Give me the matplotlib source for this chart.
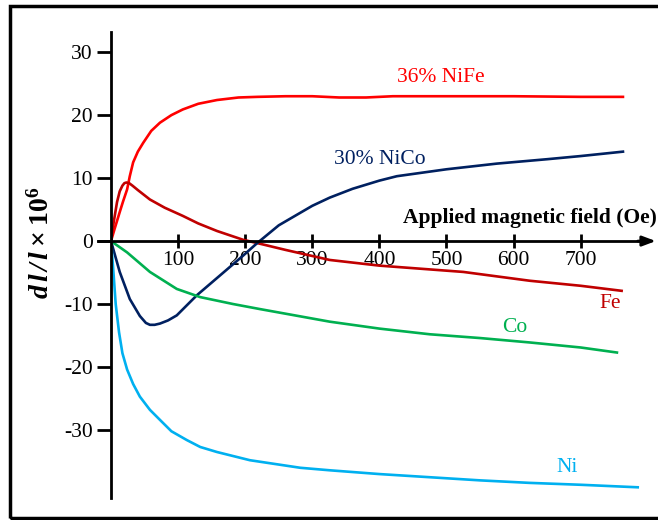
import matplotlib
matplotlib.use('Agg')
import matplotlib.pyplot as plt
from matplotlib.patches import Rectangle

plt.rcParams['font.family'] = 'Liberation Serif'
plt.rcParams['axes.unicode_minus'] = False
plt.rcParams['mathtext.fontset'] = 'custom'
plt.rcParams['mathtext.rm'] = 'Liberation Serif'
plt.rcParams['mathtext.it'] = 'Liberation Serif:italic'
plt.rcParams['mathtext.bf'] = 'Liberation Serif:bold'
plt.rcParams['mathtext.bfit'] = 'Liberation Serif:bold:italic'

# data (field in Oe, dl/l x 1e6)
nife_x = [0, 5, 9, 13, 18, 24, 28, 33, 40, 48, 60, 73, 90, 107, 130, 158, 190, 218, 260, 300, 340, 380, 420, 500, 600, 700, 763]
nife_y = [0, 1.8, 3.2, 4.6, 6.3, 8.2, 10.3, 12.5, 14.2, 15.6, 17.5, 18.8, 20.0, 20.9, 21.8, 22.4, 22.8, 22.9, 23.0, 23.0, 22.8, 22.8, 23.0, 23.0, 23.0, 22.9, 22.9]

fe_x = [0, 4, 9, 13, 17, 20, 23, 27, 32, 40, 58, 80, 107, 130, 158, 197, 225, 260, 326, 400, 525, 624, 700, 761]
fe_y = [0, 3.0, 6.2, 7.9, 8.8, 9.2, 9.3, 9.2, 8.8, 8.1, 6.6, 5.3, 4.0, 2.8, 1.6, 0.2, -0.5, -1.4, -3.0, -3.9, -4.9, -6.3, -7.1, -7.9]

nico_x = [0, 13, 28, 43, 52, 58, 65, 73, 85, 98, 128, 162, 197, 217, 250, 300, 326, 360, 400, 426, 500, 575, 650, 700, 763]
nico_y = [0, -4.9, -9.2, -11.9, -13.0, -13.3, -13.3, -13.1, -12.6, -11.8, -8.6, -5.5, -2.3, -0.4, 2.5, 5.6, 6.9, 8.3, 9.6, 10.3, 11.4, 12.3, 13.0, 13.5, 14.2]

co_x = [0, 24, 58, 98, 133, 182, 222, 326, 400, 475, 550, 624, 700, 754]
co_y = [0, -1.8, -4.9, -7.6, -8.9, -10.0, -10.8, -12.8, -13.9, -14.8, -15.4, -16.1, -16.9, -17.7]

ni_x = [0, 3, 7, 12, 17, 24, 33, 43, 58, 73, 90, 113, 133, 158, 207, 232, 282, 326, 400, 475, 550, 624, 700, 785]
ni_y = [0, -4.0, -10.0, -14.5, -17.8, -20.4, -22.7, -24.7, -26.8, -28.4, -30.2, -31.6, -32.7, -33.5, -34.8, -35.2, -36.0, -36.4, -37.0, -37.5, -38.0, -38.4, -38.7, -39.1]

xticks = [100, 200, 300, 400, 500, 600, 700]
yticks = [-30, -20, -10, 0, 10, 20, 30]

fig = plt.figure(figsize=(6.58, 5.2), dpi=100)
ax = fig.add_axes([111 / 658, 22 / 520, 543.5 / 658, 466 / 520])

ax.plot(nife_x, nife_y, color='#ff0000', lw=1.9)
ax.plot(fe_x, fe_y, color='#c00000', lw=1.9)
ax.plot(nico_x, nico_y, color='#002060', lw=1.9)
ax.plot(co_x, co_y, color='#00b050', lw=1.9)
ax.plot(ni_x, ni_y, color='#00b0f0', lw=1.9)

ax.set_xlim(0, 810)
ax.set_ylim(-40.8, 33.2)

ax.spines['top'].set_visible(False)
ax.spines['right'].set_visible(False)
ax.spines['bottom'].set_position(('data', 0))
ax.spines['left'].set_linewidth(2)
ax.spines['bottom'].set_linewidth(2)
ax.spines['bottom'].set_bounds(-20, 790)

ax.set_xticks(xticks)
ax.set_yticks(yticks)
ax.set_xticklabels([str(t) for t in xticks])
ax.set_yticklabels([str(t) for t in yticks])
ax.tick_params(axis='y', direction='out', length=10, width=2, labelsize=15.5, pad=3)
ax.tick_params(axis='x', direction='inout', length=10, width=2, labelsize=15.5, pad=2)

# arrow on x axis
ax.annotate('', xy=(812, 0), xytext=(785, 0),
            arrowprops=dict(arrowstyle='-|>,head_length=0.8,head_width=0.3',
                            color='black', lw=2, shrinkA=0, shrinkB=0),
            annotation_clip=False)

ax.text(813, 3.7, 'Applied magnetic field (Oe)', fontsize=15.5, fontweight='bold',
        ha='right', va='center')
fig.text(41 / 658, 1 - 242 / 520, r'$\mathbfit{d\,l\,/\,l}\;\mathbf{\times}\;\mathbf{10^6}$',
         fontsize=20, rotation=90, ha='center', va='center')

ax.text(492, 25.9, '36% NiFe', color='#ff0000', fontsize=15.5, ha='center', va='center')
ax.text(400, 13.0, '30% NiCo', color='#002060', fontsize=15.5, ha='center', va='center')
ax.text(744, -9.9, 'Fe', color='#c00000', fontsize=15.5, ha='center', va='center')
ax.text(601, -13.7, 'Co', color='#00b050', fontsize=15.5, ha='center', va='center')
ax.text(680, -35.9, 'Ni', color='#00b0f0', fontsize=15.5, ha='center', va='center')

fig.patches.append(Rectangle((10 / 658, 2 / 520), 660 / 658, 512 / 520,
                             transform=fig.transFigure, fill=False,
                             edgecolor='black', lw=2.5))

fig.savefig('out.png', dpi=100)
